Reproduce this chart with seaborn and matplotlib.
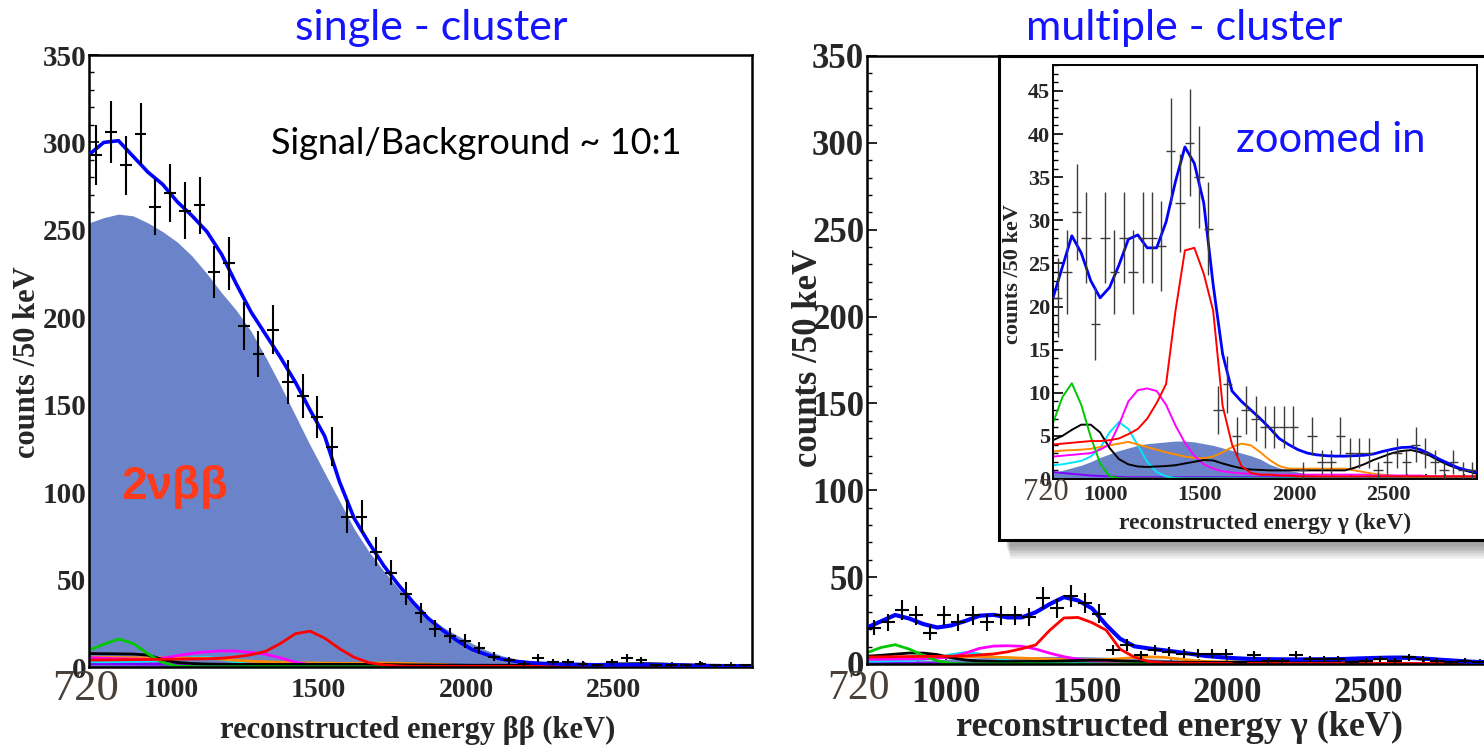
import matplotlib
matplotlib.use("Agg")
import matplotlib.pyplot as plt
from matplotlib.patches import Rectangle
from matplotlib.ticker import MultipleLocator, FixedLocator
import numpy as np
import seaborn as sns

# ---------------- data ----------------
# bin centres of the 50 keV data bins
bins = list(range(745, 2946, 50))
# energies where the fit curves are sampled
grid = list(range(720, 2971, 50))

single_counts = [293, 306, 287, 305, 263, 271, 261, 264, 226, 231,
                 195, 179, 193, 163, 155, 143, 126, 86, 86, 66,
                 54, 42, 31, 22, 18, 15, 11, 6, 4, 2,
                 5, 3, 3, 2, 1, 3, 5, 4, 1, 1,
                 1, 2, 1, 1, 1]
multi_counts = [21, 24, 31, 28, 18, 28, 24, 28, 24, 28,
                28, 27, 38, 32, 39, 35, 29, 8, 11, 5,
                8, 7, 6, 6, 6, 6, 1, 5, 2, 2,
                5, 3, 3, 3, 1, 2, 3, 2, 4, 3,
                2, 1, 2, 1, 1]

# single-cluster fit
s_total = [293, 300, 301, 292, 283, 276, 266, 258, 249, 236,
           219, 203, 190, 177, 163, 147, 132, 106, 85, 71,
           58, 47, 37, 28, 21, 15, 10, 7, 4.5, 3.2,
           2.4, 2.0, 1.7, 1.5, 1.3, 1.2, 1.2, 1.3, 1.4, 1.3,
           1.1, 0.9, 0.8, 0.7, 0.6, 0.5]
s_2nbb = [254, 257, 259, 258, 254, 249, 243, 235, 225, 214,
          204, 192, 177, 161, 144, 127, 111, 95, 79, 66,
          55, 45, 36, 29, 23, 18, 13.5, 9.5, 6.5, 4.5,
          3.2, 2.4, 1.9, 1.5, 1.2, 1.0, 0.9, 0.8, 0.7, 0.6,
          0.5, 0.4, 0.4, 0.3, 0.3, 0.2]
s_red = [4.0, 4.0, 4.1, 4.2, 4.3, 4.4, 4.5, 4.6, 4.7, 5.0,
         5.8, 7.0, 9.0, 13.5, 19.0, 20.5, 16.5, 10.5, 5.5, 2.5,
         1.2, 0.6] + [0.4] * 24
s_magenta = [5.4, 5.0, 4.7, 4.5, 4.4, 5.0, 6.5, 7.8, 8.7, 9.2,
             9.1, 8.3, 7.3, 5.2, 2.8, 1.3, 0.7, 0.5, 0.4, 0.4] + [0.4] * 26
s_green = [9.5, 13, 16, 13.5, 7.5, 2.5, 0.5, 0.2] + [0.1] * 38
s_black = [7.7, 7.6, 7.5, 7.4, 6.8, 4.2, 2.6, 2.0, 1.7, 1.6] + [1.5] * 10 + \
          [1.4, 1.3, 1.2, 1.2, 1.1, 1.1, 1.0, 1.0, 1.0, 1.0,
           1.0, 1.0, 1.1, 1.2, 1.4, 1.6, 1.8, 1.9, 1.9, 1.7,
           1.4, 1.1, 0.9, 0.7, 0.6, 0.5]
s_orange = [5.6, 5.5, 5.4, 5.3, 5.2, 5.2, 5.1, 5.0, 5.0, 4.5,
            3.8, 3.3, 3.0, 2.7, 2.5, 2.3, 2.2, 2.1, 2.1, 2.2,
            2.3, 2.2, 1.9, 1.6, 1.4, 0.8, 0.4] + [0.3] * 19
s_cyan = [3.0, 3.0, 3.1, 3.2, 3.4, 3.8, 4.5, 5.3, 5.5, 4.5,
          2.8, 1.2, 0.4] + [0.1] * 33
s_purple = [1.8, 1.8, 1.7, 1.7, 1.6, 1.6, 1.5, 1.4, 1.0, 0.6] + [0.3] * 36

# multiple-cluster fit
m_total = [21.0, 24.6, 28.2, 26.2, 23.0, 21.0, 22.2, 24.8, 27.8, 28.3,
           26.8, 26.8, 29.8, 34.5, 38.5, 36.6, 32.0, 22.5, 14.5, 10.2,
           9.0, 8.0, 7.0, 5.9, 4.7, 4.0, 3.4, 3.0, 2.8, 2.7,
           2.65, 2.65, 2.7, 2.75, 2.9, 3.2, 3.45, 3.65, 3.7, 3.4,
           2.9, 2.3, 1.8, 1.3, 1.0, 0.8]
m_2nbb = [0.8, 1.0, 1.3, 1.6, 2.0, 2.5, 2.9, 3.3, 3.6, 3.9,
          4.1, 4.2, 4.3, 4.4, 4.4, 4.3, 4.1, 3.9, 3.6, 3.3,
          3.0, 2.7, 2.3, 1.7, 1.3, 1.0, 0.8, 0.6, 0.4, 0.3,
          0.2] + [0.1] * 15
m_red = [4.0, 4.1, 4.2, 4.3, 4.4, 4.4, 4.5, 4.7, 5.2, 5.8,
         7.0, 8.8, 11.0, 19.5, 26.5, 26.8, 23.8, 19.5, 8.5, 4.0,
         1.5, 0.7, 0.5, 0.5, 0.4, 0.4] + [0.3] * 20
m_magenta = [2.6, 2.7, 2.8, 2.9, 3.0, 3.4, 4.0, 6.3, 9.0, 10.3,
             10.5, 10.2, 8.6, 6.2, 4.2, 2.7, 1.7, 1.2, 0.9, 0.75,
             0.65, 0.6] + [0.5] * 12 + [0.4] * 6 + [0.3] * 6
m_green = [6.5, 9.5, 11.1, 8.6, 4.9, 1.8, 0.3, 0.1] + [0.05] * 38
m_black = [4.5, 5.0, 5.7, 6.3, 6.3, 5.4, 3.6, 2.3, 1.7, 1.45,
           1.4, 1.45, 1.5, 1.6, 1.8, 2.0, 2.2, 2.15, 1.8, 1.5,
           1.25, 1.1, 1.05, 1.0, 1.0, 1.0, 1.0, 1.0, 1.0, 1.0,
           1.0, 1.0, 1.3, 1.7, 2.2, 2.6, 3.0, 3.25, 3.35, 3.1,
           2.7, 2.1, 1.6, 1.2, 0.9, 0.6]
m_orange = [3.2, 3.3, 3.35, 3.4, 3.5, 3.7, 3.9, 4.1, 4.3, 4.0,
            3.7, 3.4, 3.1, 2.85, 2.6, 2.45, 2.4, 2.6, 3.1, 3.7,
            4.1, 3.9, 3.1, 2.2, 1.5, 1.2, 1.2, 1.2, 1.2, 1.2,
            1.2, 1.2, 1.0, 0.8, 0.6, 0.5, 0.4] + [0.3] * 9
m_cyan = [1.6, 1.7, 1.9, 2.1, 2.6, 3.6, 5.4, 6.6, 5.8, 3.9,
          2.0, 0.8, 0.3, 0.1] + [0.05] * 32
m_purple = [0.8, 0.7, 0.6, 0.5, 0.4, 0.35, 0.3, 0.25, 0.2, 0.2] + [0.2] * 36

FILL = "#6b84c9"
COMP_COLORS = ["#8000ff", "#00e5ff", "#ff8c00", "#ff00ff", "#000000", "#00c800", "#ff0000"]

# ---------------- style ----------------
sns.set_theme(style="white")
plt.rcParams["font.family"] = ["Liberation Serif", "DejaVu Serif"]
plt.rcParams["font.weight"] = "bold"

W, H = 1484, 745
fig = plt.figure(figsize=(W / 100, H / 100), dpi=100)
fig.patch.set_facecolor("white")


def box(x0, y0, x1, y1):
    return [x0 / W, 1 - y1 / H, (x1 - x0) / W, (y1 - y0) / H]


def draw_panel(ax, comps, total, fill, counts, ymax, ymaj, ymin,
               comp_lw, tot_lw, err_lw, err_col, xerr):
    ax.fill_between(grid, 0, fill, color=FILL, lw=0, zorder=1)
    for vals, col in zip(comps, COMP_COLORS):
        sns.lineplot(x=grid, y=vals, ax=ax, color=col, lw=comp_lw, zorder=2)
    sns.lineplot(x=grid, y=total, ax=ax, color="#0000ff", lw=tot_lw, zorder=3)
    c = np.array(counts, dtype=float)
    ax.errorbar(bins, c, yerr=np.sqrt(c), xerr=xerr, fmt="none",
                ecolor=err_col, elinewidth=err_lw, capsize=0, zorder=4)
    ax.set_xlim(720, 2970)
    ax.set_ylim(0, ymax)
    ax.xaxis.set_major_locator(FixedLocator([1000, 1500, 2000, 2500]))
    ax.xaxis.set_minor_locator(MultipleLocator(100))
    ax.yaxis.set_major_locator(MultipleLocator(ymaj))
    ax.yaxis.set_minor_locator(MultipleLocator(ymin))
    ax.set_facecolor("white")
    ax.set_xlabel("")
    ax.set_ylabel("")


def style_ticks(ax, fx, fy, ylen, xpad, spine_lw):
    ax.tick_params(axis="x", which="both", direction="in", length=ylen * 0.55,
                   width=1.2, color="black", bottom=True, top=False,
                   labelsize=fx, pad=xpad)
    ax.tick_params(axis="y", which="major", direction="in", length=ylen,
                   width=1.2, color="black", left=True, right=False,
                   labelsize=fy, pad=2)
    ax.tick_params(axis="y", which="minor", direction="in", length=ylen * 0.5,
                   width=1.0, color="black", left=True, right=False)
    for s in ax.spines.values():
        s.set_color("black")
        s.set_linewidth(spine_lw)


# ---------------- single cluster ----------------
s_comps = [s_purple, s_cyan, s_orange, s_magenta, s_black, s_green, s_red]
ax_l = fig.add_axes(box(89, 55, 752, 667))
draw_panel(ax_l, s_comps, s_total, s_2nbb, single_counts, 350, 50, 10,
           2.0, 2.6, 1.5, "black", 20)
style_ticks(ax_l, 20, 21, 7, 8, 1.8)

# ---------------- multiple cluster ----------------
m_comps = [m_purple, m_cyan, m_orange, m_magenta, m_black, m_green, m_red]
ax_r = fig.add_axes(box(867, 56, 1500, 664))
draw_panel(ax_r, m_comps, m_total, m_2nbb, multi_counts, 350, 50, 10,
           2.0, 3.0, 1.5, "black", 25)
style_ticks(ax_r, 25, 25, 7, 9, 1.8)

# inset frame with drop shadow
for i in range(8):
    fig.patches.append(Rectangle((1006 / W + i * 0.6 / W, 1 - (546 + i * 1.8) / H),
                                 0.4, 480 / H, transform=fig.transFigure,
                                 facecolor="black", edgecolor="none",
                                 alpha=0.05, zorder=1.5))
ax_box = fig.add_axes(box(999, 56, 1510, 540))
ax_box.set_zorder(2)
ax_box.set_facecolor("white")
ax_box.set_xticks([])
ax_box.set_yticks([])
for s in ax_box.spines.values():
    s.set_color("black")
    s.set_linewidth(2.2)

ax_i = fig.add_axes(box(1053, 65, 1477, 479))
ax_i.set_zorder(3)
draw_panel(ax_i, m_comps, m_total, m_2nbb, multi_counts, 48, 5, 1,
           1.4, 2.0, 1.0, "#3c3c3c", 25)
style_ticks(ax_i, 16, 16, 7, 4, 1.4)

# ---------------- text ----------------
blue = "#1414ff"
fig.text(431 / W, 1 - 28 / H, "single - cluster", ha="center", va="center",
         color=blue, fontsize=31, family="Lato", weight="normal")
fig.text(1184 / W, 1 - 28 / H, "multiple - cluster", ha="center", va="center",
         color=blue, fontsize=31, family="Lato", weight="normal")
fig.text(476 / W, 1 - 143 / H, "Signal/Background ~ 10:1", ha="center",
         va="center", color="black", fontsize=26, family="Lato", weight="normal")
fig.text(1331 / W, 1 - 140 / H, "zoomed in", ha="center", va="center",
         color=blue, fontsize=30, family="Lato", weight="normal")
fig.text(175 / W, 1 - 487 / H, "2νββ", ha="center", va="center",
         color="#ff3a1a", fontsize=33, family="Liberation Sans", weight="bold")

fig.text(28 / W, 1 - 362 / H, "counts /50 keV", rotation=90, ha="center",
         va="center", fontsize=22)
fig.text(808 / W, 1 - 358 / H, "counts /50 keV", rotation=90, ha="center",
         va="center", fontsize=25)
fig.text(1013 / W, 1 - 274 / H, "counts /50 keV", rotation=90, ha="center",
         va="center", fontsize=16, zorder=5)

fig.text(418 / W, 1 - 730 / H, "reconstructed energy ββ (keV)", ha="center",
         va="center", fontsize=22)
fig.text(1179 / W, 1 - 727 / H, "reconstructed energy γ (keV)", ha="center",
         va="center", fontsize=26)
fig.text(1265 / W, 1 - 523 / H, "reconstructed energy γ (keV)", ha="center",
         va="center", fontsize=17, zorder=5)

lab720 = dict(ha="center", va="center", color="#4a4038", weight="normal")
fig.text(86 / W, 1 - 689 / H, "720", fontsize=32, **lab720)
fig.text(858 / W, 1 - 689 / H, "720", fontsize=30, **lab720)
fig.text(1046 / W, 1 - 492 / H, "720", fontsize=22, zorder=5, **lab720)

fig.savefig("out.png", dpi=100)
